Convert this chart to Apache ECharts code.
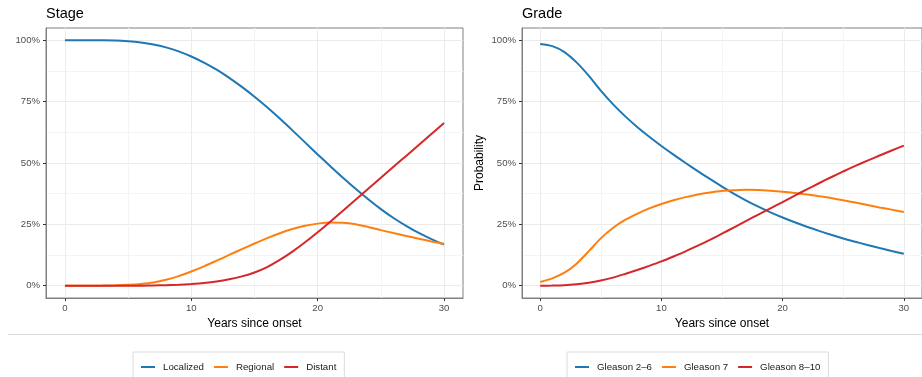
<!DOCTYPE html>
<html><head><meta charset="utf-8">
<script src="https://cdn.jsdelivr.net/npm/echarts@6/dist/echarts.min.js"></script>
<style>html,body{margin:0;padding:0;background:#fff}#c{width:922px;height:377px}</style>
</head><body><div id="c"></div>
<script>
// ---- data ----
const years = [0,1,2,3,4,5,6,7,8,9,10,11,12,13,14,15,16,17,18,19,20,21,22,23,24,25,26,27,28,29,30];

const stageLocalized = [100,100,100,100,99.9,99.6,99.1,98.3,97.1,95.5,93.4,90.9,88,84.7,81,77,72.7,68.1,63.3,58.4,53.5,48.7,44,39.5,35.2,31.2,27.6,24.4,21.5,19,16.8];
const stageRegional  = [0,0,0,0.05,0.15,0.35,0.7,1.3,2.4,3.9,5.8,7.9,10.2,12.55,14.9,17.2,19.4,21.4,23.1,24.4,25.3,25.75,25.65,25.05,23.95,22.65,21.45,20.3,19.15,18.05,17];
const stageDistant   = [0,0,0,0,0,0,0,0.1,0.2,0.4,0.7,1.1,1.7,2.6,3.8,5.4,7.6,10.5,13.9,17.7,21.8,26.1,30.55,35.05,39.55,44,48.45,52.9,57.35,61.8,66.25];

const gleason2to6  = [98.5,97.6,95.2,91,85.6,79.5,74,69.1,64.7,60.7,56.95,53.4,50,46.7,43.5,40.4,37.45,34.7,32.2,29.9,27.8,25.85,24.05,22.35,20.75,19.25,17.9,16.6,15.35,14.15,13];
const gleason7     = [1.5,3,5.3,9,14,19.3,23.5,26.8,29.3,31.5,33.3,34.8,36.1,37.2,38,38.6,38.9,39.1,39,38.7,38.3,37.8,37.2,36.5,35.7,34.8,33.9,32.9,31.9,31,30];
const gleason8to10 = [0,0.05,0.2,0.6,1.2,2.1,3.3,4.8,6.4,8.1,9.9,11.9,14,16.3,18.7,21.2,23.8,26.4,29,31.55,34.1,36.7,39.25,41.75,44.2,46.55,48.8,50.95,53.05,55.1,57.1];

const xTicks = [0, 10, 20, 30];
const xMinor = [5, 15, 25];
const yTicks = [0, 25, 50, 75, 100];
const yMinor = [12.5, 37.5, 62.5, 87.5];

const colors = {blue: '#1f77b4', orange: '#ff7f0e', red: '#d62728'};
const FONT = '"Liberation Sans", Arial, Helvetica, sans-serif';

function zip(xs, ys) { return xs.map((x, i) => [x, ys[i]]); }

function mainX(gi, showName) {
  return {
    type: 'value', gridIndex: gi, min: -1.5, max: 31.5,
    name: showName, nameLocation: 'middle', nameGap: 18,
    nameTextStyle: {fontSize: 12, color: '#000', fontFamily: FONT},
    axisLine: {show: true, onZero: false, lineStyle: {color: '#808080', width: 1}},
    axisTick: {show: true, length: 3, customValues: xTicks, lineStyle: {color: '#333'}},
    axisLabel: {customValues: xTicks, fontSize: 9.6, color: '#4d4d4d', margin: 5, fontFamily: FONT},
    splitLine: {show: true, lineStyle: {color: '#ebebeb', width: 1}}
  };
}
function minorX(gi) {
  return {
    type: 'value', gridIndex: gi, min: -1.5, max: 31.5, position: 'bottom',
    axisLine: {show: false, onZero: false}, axisLabel: {show: false},
    axisTick: {show: false, customValues: xMinor},
    splitLine: {show: true, lineStyle: {color: '#f4f4f4', width: 1}}
  };
}
function mainY(gi, name) {
  return {
    type: 'value', gridIndex: gi, min: -5, max: 105,
    name: name, nameLocation: 'middle', nameGap: 36,
    nameTextStyle: {fontSize: 12, color: '#000', fontFamily: FONT},
    axisLine: {show: true, onZero: false, lineStyle: {color: '#808080', width: 1}},
    axisTick: {show: true, length: 3, customValues: yTicks, lineStyle: {color: '#333'}},
    axisLabel: {customValues: yTicks, formatter: '{value}%', fontSize: 9.6, color: '#4d4d4d', margin: 6, fontFamily: FONT},
    splitLine: {show: true, lineStyle: {color: '#ebebeb', width: 1}}
  };
}
function minorY(gi) {
  return {
    type: 'value', gridIndex: gi, min: -5, max: 105, position: 'left',
    axisLine: {show: false, onZero: false}, axisLabel: {show: false},
    axisTick: {show: false, customValues: yMinor},
    splitLine: {show: true, lineStyle: {color: '#f4f4f4', width: 1}}
  };
}
function lineSeries(name, gi, xs, ys, color) {
  return {
    name: name, type: 'line', xAxisIndex: gi * 2, yAxisIndex: gi * 2,
    data: zip(xs, ys), smooth: 0.3, showSymbol: false, symbol: 'none',
    lineStyle: {color: color, width: 2}, itemStyle: {color: color},
    emphasis: {disabled: true}, animation: false
  };
}
function legend(names, left) {
  return {
    data: names, left: left, top: 352, orient: 'horizontal',
    padding: [10, 8, 30, 8], borderColor: '#dcdcdc', borderWidth: 1,
    itemGap: 10, itemWidth: 14, itemHeight: 2, icon: 'rect',
    textStyle: {fontSize: 9.7, color: '#1a1a1a', padding: [0, 0, 0, 3], fontFamily: FONT},
    selectedMode: false
  };
}

const chart = echarts.init(document.getElementById('c'), null, {renderer: 'canvas'});
chart.setOption({
  backgroundColor: '#fff',
  animation: false,
  textStyle: {fontFamily: FONT},
  title: [
    {text: 'Stage', left: 46, top: 6, padding: 0, textStyle: {fontSize: 14.5, fontWeight: 'normal', color: '#000', fontFamily: FONT}},
    {text: 'Grade', left: 522, top: 6, padding: 0, textStyle: {fontSize: 14.5, fontWeight: 'normal', color: '#000', fontFamily: FONT}}
  ],
  grid: [
    {left: 46, top: 28, width: 417, height: 270, show: true, borderColor: '#808080', borderWidth: 1, backgroundColor: '#fff'},
    {left: 522, top: 28, width: 402.6, height: 270, show: true, borderColor: '#808080', borderWidth: 1, backgroundColor: '#fff'}
  ],
  xAxis: [mainX(0, 'Years since onset'), minorX(0), mainX(1, 'Years since onset'), minorX(1)],
  yAxis: [mainY(0, ''), minorY(0), mainY(1, 'Probability'), minorY(1)],
  legend: [
    legend(['Localized', 'Regional', 'Distant'], 133),
    legend(['Gleason 2–6', 'Gleason 7', 'Gleason 8–10'], 567)
  ],
  graphic: [
    {type: 'line', shape: {x1: 8, y1: 334.5, x2: 922, y2: 334.5}, style: {stroke: '#dcdcdc', lineWidth: 1}, silent: true}
  ],
  series: [
    lineSeries('Localized', 0, years, stageLocalized, colors.blue),
    lineSeries('Regional', 0, years, stageRegional, colors.orange),
    lineSeries('Distant', 0, years, stageDistant, colors.red),
    lineSeries('Gleason 2–6', 1, years, gleason2to6, colors.blue),
    lineSeries('Gleason 7', 1, years, gleason7, colors.orange),
    lineSeries('Gleason 8–10', 1, years, gleason8to10, colors.red)
  ]
});
</script></body></html>
